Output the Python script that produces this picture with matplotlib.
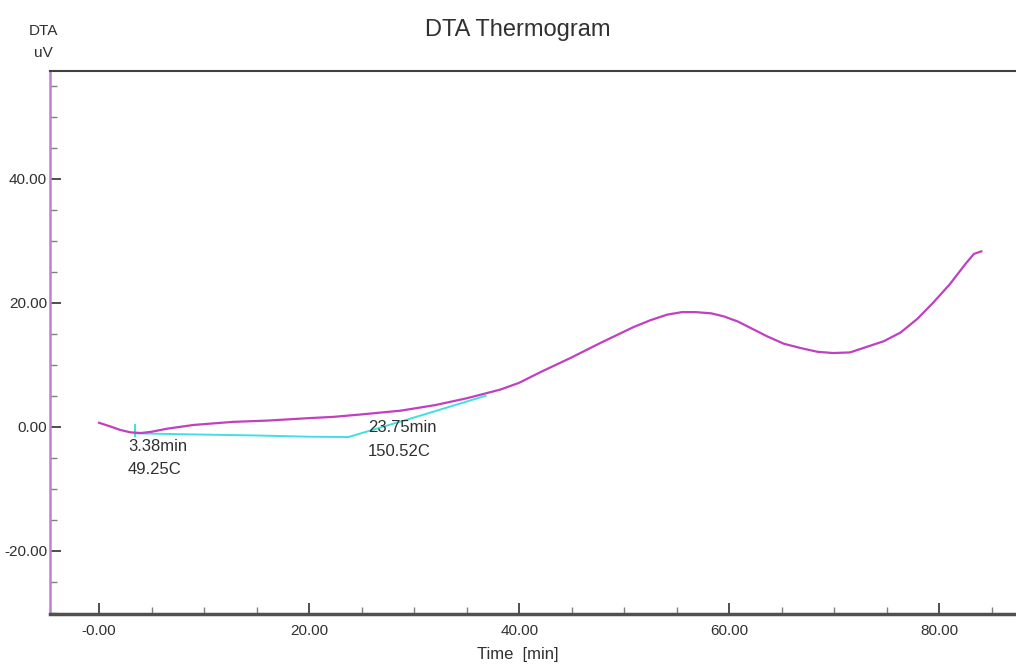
import matplotlib
matplotlib.use("Agg")
import matplotlib.pyplot as plt
from matplotlib.ticker import MultipleLocator

# DTA signal
time_min = [0, 1, 2, 3, 4, 5, 6.5, 9, 12.8, 16, 20, 22.3, 25, 28.7, 32, 35,
            38.2, 40, 42, 45, 47.7, 50.9, 52.5, 54.1, 55.5, 56.8, 58.3, 59.5,
            60.8, 62.2, 63.6, 65.2, 66.8, 68.4, 69.9, 71.5, 73.1, 74.7, 76.3,
            77.9, 79.4, 81, 82.5, 83.3, 84.0]
dta_uv = [0.65, 0.1, -0.5, -0.9, -1.0, -0.8, -0.3, 0.3, 0.8, 1.0, 1.4, 1.6,
          2.0, 2.6, 3.5, 4.6, 6.0, 7.1, 8.8, 11.2, 13.5, 16.1, 17.2, 18.1,
          18.5, 18.5, 18.3, 17.8, 17.0, 15.8, 14.6, 13.4, 12.7, 12.1, 11.9,
          12.0, 12.9, 13.8, 15.2, 17.4, 20.0, 23.0, 26.3, 27.9, 28.3]

# baseline drawn between the two picked points
base_t = [3.38, 8, 15, 20, 23.75, 30, 36.8]
base_v = [-1.05, -1.2, -1.4, -1.6, -1.65, 1.5, 5.0]
marker_t = [3.38, 3.38]
marker_v = [0.3, -1.45]

ytick_vals = [-20, 0, 20, 40]
ytick_labels = ["-20.00", "0.00", "20.00", "40.00"]
xtick_vals = [0, 20, 40, 60, 80]
xtick_labels = ["-0.00", "20.00", "40.00", "60.00", "80.00"]

FONT = ["Liberation Sans Narrow", "Liberation Sans", "DejaVu Sans"]
CURVE = "#c040c0"
BASE = "#40e0e0"
TXT = "#303030"

fig = plt.figure(figsize=(10.16, 6.68), dpi=100)
ax = fig.add_axes([50 / 1016, 1 - 614 / 668, 1 - 50 / 1016, (614 - 71) / 668])

ax.plot(base_t, base_v, color=BASE, lw=1.4, zorder=2)
ax.plot(marker_t, marker_v, color=BASE, lw=1.4, zorder=2)
ax.plot(time_min, dta_uv, color=CURVE, lw=1.6, zorder=3)

ax.set_xlim(-4.67, 87.3)
ax.set_ylim(-30.2, 57.4)

ax.set_xticks(xtick_vals)
ax.set_xticklabels(xtick_labels)
ax.set_yticks(ytick_vals)
ax.set_yticklabels(ytick_labels)
ax.xaxis.set_minor_locator(MultipleLocator(5))
ax.yaxis.set_minor_locator(MultipleLocator(5))
ax.tick_params(axis="both", which="major", direction="in", length=8,
               width=1.2, color=TXT, labelsize=11, labelcolor=TXT, pad=2)
ax.tick_params(axis="both", which="minor", direction="in", length=5,
               width=1.0, color="#808080")
ax.tick_params(axis="x", which="major", pad=7)
for lab in ax.get_xticklabels() + ax.get_yticklabels():
    lab.set_family(FONT)

ax.spines["right"].set_visible(False)
ax.spines["left"].set_color("#c080d0")
ax.spines["left"].set_linewidth(1.8)
ax.spines["top"].set_color("#404040")
ax.spines["top"].set_linewidth(1.5)
ax.spines["bottom"].set_color("#505050")
ax.spines["bottom"].set_linewidth(2.5)

# peak pick annotations
ax.text(2.76, -3.1, "3.38min", fontsize=12, color=TXT, family=FONT, va="center")
ax.text(2.76, -6.9, "49.25C", fontsize=12, color=TXT, family=FONT, va="center")
ax.text(25.6, -0.15, "23.75min", fontsize=12, color=TXT, family=FONT, va="center")
ax.text(25.6, -4.0, "150.52C", fontsize=12, color=TXT, family=FONT, va="center")

fig.text(518 / 1016, 1 - 30 / 668, "DTA Thermogram", fontsize=17, color=TXT,
         family=FONT, ha="center", va="center")
fig.text(43 / 1016, 1 - 31 / 668, "DTA", fontsize=11, color=TXT, family=FONT,
         ha="center", va="center")
fig.text(43 / 1016, 1 - 53 / 668, "uV", fontsize=11, color=TXT, family=FONT,
         ha="center", va="center")
fig.text(518 / 1016, 1 - 655 / 668, "Time  [min]", fontsize=12, color=TXT,
         family=FONT, ha="center", va="center")

fig.savefig("out.png", dpi=100, facecolor="white")
